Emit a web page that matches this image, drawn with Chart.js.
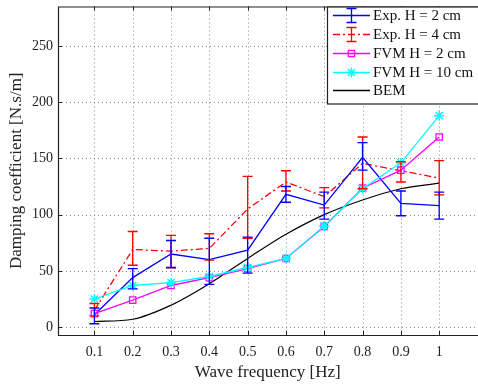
<!DOCTYPE html>
<html>
<head>
<meta charset="utf-8">
<script src="https://cdn.jsdelivr.net/npm/chart.js@4.4.1/dist/chart.umd.min.js"></script>
<style>
html,body{margin:0;padding:0;background:#fff;overflow:hidden;}
#wrap{width:484px;height:391px;}
</style>
</head>
<body>
<div id="wrap"><canvas id="c" width="484" height="391"></canvas></div>
<script>
// ---- data ----
const freqs = [0.1, 0.2, 0.3, 0.4, 0.5, 0.6, 0.7, 0.8, 0.9, 1.0];
const xTickLabels = ['0.1','0.2','0.3','0.4','0.5','0.6','0.7','0.8','0.9','1'];
const yTicks = [0, 50, 100, 150, 200, 250];

const expH2   = [11, 44, 65, 60, 68.5, 118, 108.5, 151, 110, 108];
const expH2Lo = [3, 34, 53, 38, 48, 111, 96, 139.5, 99, 96];
const expH2Hi = [17, 52, 77, 79, 80, 125, 120, 164, 121, 120];

const expH4   = [15, 69, 67.5, 70, 105, 129, 116, 145.6, 139, 132.5];
const expH4Lo = [10, 55, 52.6, 59.6, 79, 121, 106, 123, 129, 117.5];
const expH4Hi = [21, 85, 81.5, 83, 134, 139, 124, 169, 147, 148];

const fvmH2  = [12, 24, 37, 44, 52, 61, 89.5, 123.5, 139.5, 169];
const fvmH10 = [25, 37, 39.5, 45, 53, 61, 90, 123, 146, 188];
const bem    = [5, 7, 19.5, 38.6, 61, 82.5, 100, 113, 123, 128];

const labels = ['Exp. H = 2 cm', 'Exp. H = 4 cm', 'FVM H = 2 cm', 'FVM H = 10 cm', 'BEM'];

const pts = arr => arr.map((v, i) => ({x: freqs[i], y: v}));
const FONT = '"Liberation Serif", "Times New Roman", serif';
const RED_DASH = [7, 3, 2, 3];

const noPad = s => { s.paddingTop = 0; s.paddingBottom = 0; s.paddingLeft = 0; s.paddingRight = 0; };

const errPlugin = {
  id: 'matlabStyle',
  beforeDatasetsDraw(chart) {
    const {ctx, chartArea: a, scales: {x, y}} = chart;
    ctx.save();
    ctx.strokeStyle = '#8a8a8a';
    ctx.lineWidth = 1;
    ctx.setLineDash([1, 3]);
    freqs.forEach(f => {
      const px = Math.round(x.getPixelForValue(f)) + 0.5;
      ctx.beginPath(); ctx.moveTo(px, a.top); ctx.lineTo(px, a.bottom); ctx.stroke();
    });
    yTicks.forEach(v => {
      const py = Math.round(y.getPixelForValue(v)) + 0.5;
      ctx.beginPath(); ctx.moveTo(a.left, py); ctx.lineTo(a.right, py); ctx.stroke();
    });
    ctx.restore();
  },
  afterDatasetsDraw(chart) {
    const {ctx, chartArea: a, scales: {x, y}} = chart;
    ctx.save();
    ctx.setLineDash([]);
    const drawErr = (vals, lo, hi, color) => {
      ctx.strokeStyle = color; ctx.lineWidth = 1.3;
      vals.forEach((v, i) => {
        const px = x.getPixelForValue(freqs[i]);
        const pl = y.getPixelForValue(lo[i]);
        const ph = y.getPixelForValue(hi[i]);
        ctx.beginPath();
        ctx.moveTo(px, pl); ctx.lineTo(px, ph);
        ctx.moveTo(px - 5, pl); ctx.lineTo(px + 5, pl);
        ctx.moveTo(px - 5, ph); ctx.lineTo(px + 5, ph);
        ctx.stroke();
      });
    };
    drawErr(expH4, expH4Lo, expH4Hi, '#ff0000');
    drawErr(expH2, expH2Lo, expH2Hi, '#0000ff');

    // frame
    ctx.strokeStyle = '#222'; ctx.lineWidth = 1.2;
    ctx.beginPath();
    ctx.moveTo(a.right + 2, a.top + 0.5); ctx.lineTo(a.left + 0.5, a.top + 0.5);
    ctx.lineTo(a.left + 0.5, a.bottom + 0.5); ctx.lineTo(a.right + 2, a.bottom + 0.5);
    ctx.stroke();
    // inside ticks
    ctx.lineWidth = 1;
    freqs.forEach(f => {
      const px = Math.round(x.getPixelForValue(f)) + 0.5;
      ctx.beginPath();
      ctx.moveTo(px, a.bottom); ctx.lineTo(px, a.bottom - 4);
      ctx.moveTo(px, a.top); ctx.lineTo(px, a.top + 4);
      ctx.stroke();
    });
    yTicks.forEach(v => {
      const py = Math.round(y.getPixelForValue(v)) + 0.5;
      ctx.beginPath(); ctx.moveTo(a.left, py); ctx.lineTo(a.left + 4, py); ctx.stroke();
    });

    // legend
    const lx = 327.5, ly = a.top + 0.5, lw = 160, lh = 97;
    ctx.fillStyle = '#fff';
    ctx.fillRect(lx, ly, lw, lh);
    ctx.strokeStyle = '#222'; ctx.lineWidth = 1.2;
    ctx.strokeRect(lx, ly, lw, lh);
    const rows = [15, 34, 53, 72, 90];
    const x0 = 333, x1 = 370, xm = 351.5, tx = 373;
    ctx.font = '15px ' + FONT;
    ctx.textBaseline = 'middle';
    ctx.textAlign = 'left';
    chart.data.datasets.forEach((ds, i) => {
      const yy = rows[i] + 0.5;
      ctx.strokeStyle = ds.borderColor;
      ctx.lineWidth = 1.3;
      ctx.setLineDash(ds.borderDash || []);
      ctx.beginPath(); ctx.moveTo(x0, yy); ctx.lineTo(x1, yy); ctx.stroke();
      ctx.setLineDash([]);
      if (i < 2) {
        ctx.beginPath();
        ctx.moveTo(xm, yy - 7); ctx.lineTo(xm, yy + 7);
        ctx.moveTo(xm - 5, yy - 7); ctx.lineTo(xm + 5, yy - 7);
        ctx.moveTo(xm - 5, yy + 7); ctx.lineTo(xm + 5, yy + 7);
        ctx.stroke();
      } else if (i < 4) {
        ctx.fillStyle = ds.pointBackgroundColor;
        ctx.strokeStyle = ds.pointBorderColor;
        ctx.lineWidth = ds.pointBorderWidth;
        Chart.helpers.drawPoint(ctx, {
          pointStyle: ds.pointStyle, radius: ds.pointRadius, borderWidth: ds.pointBorderWidth
        }, xm, yy);
      }
      ctx.fillStyle = '#111';
      ctx.fillText(ds.label, tx, rows[i] + 1);
    });
    ctx.restore();
  }
};

new Chart(document.getElementById('c'), {
  type: 'line',
  data: {
    datasets: [
      {label: labels[0], data: pts(expH2), borderColor: '#0000ff', borderWidth: 1.3, pointRadius: 0, order: 3},
      {label: labels[1], data: pts(expH4), borderColor: '#ff0000', borderWidth: 1.3, borderDash: RED_DASH, pointRadius: 0, order: 4},
      {label: labels[2], data: pts(fvmH2), borderColor: '#ff00ff', borderWidth: 1.3, pointStyle: 'rect',
       pointRadius: 4.5, pointBorderWidth: 1.3, pointBackgroundColor: 'rgba(255,255,255,0)', pointBorderColor: '#ff00ff', order: 2},
      {label: labels[3], data: pts(fvmH10), borderColor: '#00ffff', borderWidth: 1.3, pointStyle: 'star',
       pointRadius: 5, pointBorderWidth: 1.5, pointBorderColor: '#00ffff', pointBackgroundColor: '#00ffff', order: 1},
      {label: labels[4], data: pts(bem), borderColor: '#000000', borderWidth: 1.2, pointRadius: 0,
       cubicInterpolationMode: 'monotone', order: 5}
    ]
  },
  options: {
    responsive: false,
    animation: false,
    layout: {padding: {top: 3, right: 2, left: 0, bottom: 0}},
    plugins: {legend: {display: false}, tooltip: {enabled: false}},
    scales: {
      x: {
        type: 'linear', min: 0.005, max: 1.1,
        afterBuildTicks: s => { s.ticks = freqs.map(v => ({value: v})); },
        afterFit: s => { s.height = 56; noPad(s); },
        grid: {display: false, drawTicks: false},
        border: {display: false},
        ticks: {
          autoSkip: false, maxRotation: 0, padding: 9, color: '#222',
          font: {family: FONT, size: 14},
          callback: (v) => { const i = freqs.findIndex(f => Math.abs(f - v) < 1e-6); return i >= 0 ? xTickLabels[i] : ''; }
        },
        title: {display: true, text: 'Wave frequency [Hz]', color: '#222',
                font: {family: FONT, size: 17}, padding: {top: 0, bottom: 8}}
      },
      y: {
        type: 'linear', min: -7, max: 285,
        afterBuildTicks: s => { s.ticks = yTicks.map(v => ({value: v})); },
        afterFit: s => { s.width = 58; noPad(s); },
        grid: {display: false, drawTicks: false},
        border: {display: false},
        ticks: {padding: 5, color: '#222', font: {family: FONT, size: 14}},
        title: {display: true, text: 'Damping coefficient [N.s/m]', color: '#222',
                font: {family: FONT, size: 17}, padding: {top: 6, bottom: 0}}
      }
    }
  },
  plugins: [errPlugin]
});
</script>
</body>
</html>
